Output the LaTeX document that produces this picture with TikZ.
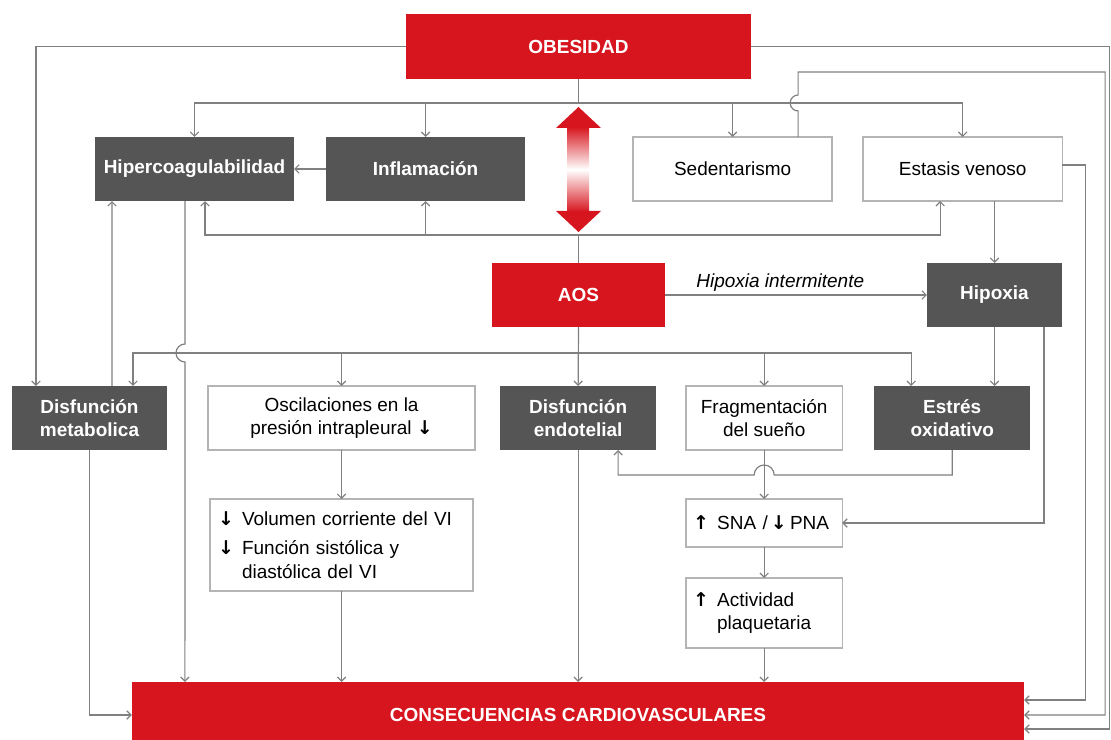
\documentclass[tikz,border=0pt]{standalone}
\usepackage{fontspec}
\setmainfont{Liberation Sans}
\newfontfamily\arrowfont{DejaVu Sans}
\usetikzlibrary{arrows, arrows.meta, positioning, calc}

\definecolor{obred}{HTML}{D7151E}
\definecolor{boxgray}{HTML}{555555}
\definecolor{linegray}{HTML}{808080}
\definecolor{rimgray}{HTML}{B4B4B4}

\newcommand{\arrsym}[1]{{\arrowfont\bfseries #1}}
\newcommand{\arrup}{\makebox[0.6cm][l]{\arrsym{↑}}}
\newcommand{\arrdn}{\makebox[0.6cm][l]{\arrsym{↓}}}

\begin{document}
\begin{tikzpicture}[
    x=0.025cm, y=-0.025cm,
    >={Straight Barb[length=3pt, width=6pt]},
    base/.style={rectangle, inner sep=0pt, outer sep=0pt, minimum height=1.6cm, align=center, font=\fontsize{13.5}{16.5}\selectfont},
    redbox/.style={base, fill=obred, text=white, font=\fontsize{13.5}{16.5}\selectfont\bfseries},
    darkbox/.style={base, fill=boxgray, text=white, font=\fontsize{13.5}{16.5}\selectfont\bfseries},
    whitebox/.style={base, draw=rimgray, line width=1pt, fill=white},
    listbox/.style={whitebox, align=left, inner xsep=0.2cm},
    link/.style={draw=linegray, line width=0.85pt},
    linktext/.style={font=\fontsize{13.5}{16.5}\selectfont\itshape, inner sep=2pt}
]
\useasboundingbox (0,0) rectangle (1111,740);

% Top: obesity
\node[redbox, minimum width=8.625cm, minimum height=1.625cm] (obes) at (578.5,46.5) {OBESIDAD};

% Row of consequences of obesity
\node[darkbox, minimum width=4.975cm] (hiper) at (194.5,169) {Hipercoagulabilidad};
\node[darkbox, minimum width=4.975cm, right=0.8cm of hiper] (infl) {Inflamación};
\node[whitebox, minimum width=4.975cm, right=2.7cm of infl] (sed) {Sedentarismo};
\node[whitebox, minimum width=4.975cm, right=0.775cm of sed] (est) {Estasis venoso};

% Apnea and hypoxia
\node[redbox, minimum width=4.325cm] (aos) at (578.5,295) {AOS};
\node[darkbox, minimum width=3.375cm] (hipox) at (994.5,295) {Hipoxia};

% Row of mechanisms
\node[darkbox, minimum width=3.875cm] (dmet) at (89.5,418) {Disfunción\\metabolica};
\node[whitebox, minimum width=6.675cm, right=1.025cm of dmet] (osc) {Oscilaciones en la\\presión intrapleural \arrsym{↓}};
\node[darkbox, minimum width=3.9cm, right=0.625cm of osc] (dend) {Disfunción\\endotelial};
\node[whitebox, minimum width=3.9cm, right=0.75cm of dend] (frag) {Fragmentación\\del sueño};
\node[darkbox, minimum width=3.9cm, right=0.8cm of frag] (estr) {Estrés\\oxidativo};

% Lower boxes
\node[listbox, minimum width=6.575cm, minimum height=2.3cm, text width=6.175cm, below=1.225cm of osc] (vol) {\arrdn Volumen corriente del VI\\[0.15cm]\arrdn Función sistólica y\\\hspace*{0.6cm}diastólica del VI};
\node[listbox, minimum width=3.9cm, minimum height=1.2cm, text width=3.55cm, inner xsep=0.175cm, below=1.225cm of frag] (sna) {\mbox{\arrup SNA /\,\arrsym{↓}\,PNA}};
\node[listbox, minimum width=3.9cm, minimum height=1.75cm, text width=3.55cm, inner xsep=0.175cm, below=0.775cm of sna] (act) {\arrup Actividad\\\hspace*{0.6cm}plaquetaria};

% Bottom
\node[redbox, minimum width=22.3cm, minimum height=1.65cm] (cons) at (578,715) {CONSECUENCIAS CARDIOVASCULARES};

% Red double arrow between OBESIDAD and AOS
\shade[top color=obred, bottom color=obred, middle color=white] (567,127) rectangle (589,212);
\fill[obred] (578.5,107) -- (601,128) -- (556,128) -- cycle;
\fill[obred] (578.5,232) -- (601,211) -- (556,211) -- cycle;

% Obesity branches
\coordinate (ob) at ($(obes.south)+(0,24)$);
\draw[link] (obes.south) -- (ob);
\draw[link,->] (ob) -| (hiper.north);
\draw[link,->] (ob) -| (infl.north);
\draw[link,->] (ob) -| (sed.north);
\draw[link,->] (ob) -| (est.north);
\draw[link,->] (obes.west) -| ($(dmet.north west)+(24,0)$);
\draw[link,->] (obes.east) -| ($(cons.east)+(85.5,14)$) -- ($(cons.east)+(0,14)$);

% Sedentarismo and estasis to consequences
\draw[link,->] ($(sed.north)+(65.5,0)$) -- ++(0,-26) arc[start angle=90, end angle=270, radius=8] -- ++(0,-23) -| ($(cons.east)+(81,0)$) -- (cons.east);
\draw[link,->] ($(est.east)+(0,-4)$) -| ($(cons.east)+(61,-15)$) -- ($(cons.east)+(0,-15)$);
\draw[link,->] (infl.west) -- (hiper.east);

% AOS upwards
\coordinate (ab) at ($(aos.north)+(0,-28)$);
\draw[link] (aos.north) -- (ab);
\draw[link,->] (ab) -| ($(hiper.south)+(10.5,0)$);
\draw[link,->] (ab) -| (infl.south);
\draw[link,->] (ab) -| ($(est.south)+(-22.5,0)$);

% Hypoxia
\draw[link,->] (aos.east) -- node[linktext, above, pos=0.44] {Hipoxia intermitente} (hipox.west);
\draw[link,->] (est.south -| hipox.north) -- (hipox.north);
\draw[link,->] (hipox.south) -- (hipox.south |- estr.north);
\draw[link,->] ($(hipox.south)+(49.5,0)$) |- (sna.east);

% AOS downwards
\coordinate (ao) at ($(aos.south)+(0,26)$);
\draw[link,->] (aos.south) -- (dend.north);
\draw[link,->] (ao) -| ($(dmet.north)+(43.5,0)$);
\draw[link,->] (ao) -| (osc.north);
\draw[link,->] (ao) -| (frag.north);
\draw[link,->] (ao) -| ($(estr.north)+(-41,0)$);

% Metabolic and coagulation
\draw[link,->] ($(dmet.north)+(22.5,0)$) -- ($(hiper.south)+(-82.5,0)$);
\draw[link,->] ($(hiper.south)+(-9.5,0)$) -- ++(0,143) arc[start angle=270, end angle=90, radius=9] -- ($(cons.north west)+(53,0)$);
\draw[link,->] (dmet.south) |- (cons.west);

% Oxidative stress to endothelium
\draw[link,->] (estr.south) -- ++(0,25) -- ($(frag.south)+(10,25)$) arc[start angle=0, end angle=-180, radius=10] -| ($(dend.south)+(40,0)$);

% Chains down to consequences
\draw[link,->] (osc.south) -- (vol.north);
\draw[link,->] (frag.south) -- (sna.north);
\draw[link,->] (sna.south) -- (act.north);
\draw[link,->] (vol.south) -- (vol.south |- cons.north);
\draw[link,->] (dend.south) -- (dend.south |- cons.north);
\draw[link,->] (act.south) -- (act.south |- cons.north);

\end{tikzpicture}
\end{document}
